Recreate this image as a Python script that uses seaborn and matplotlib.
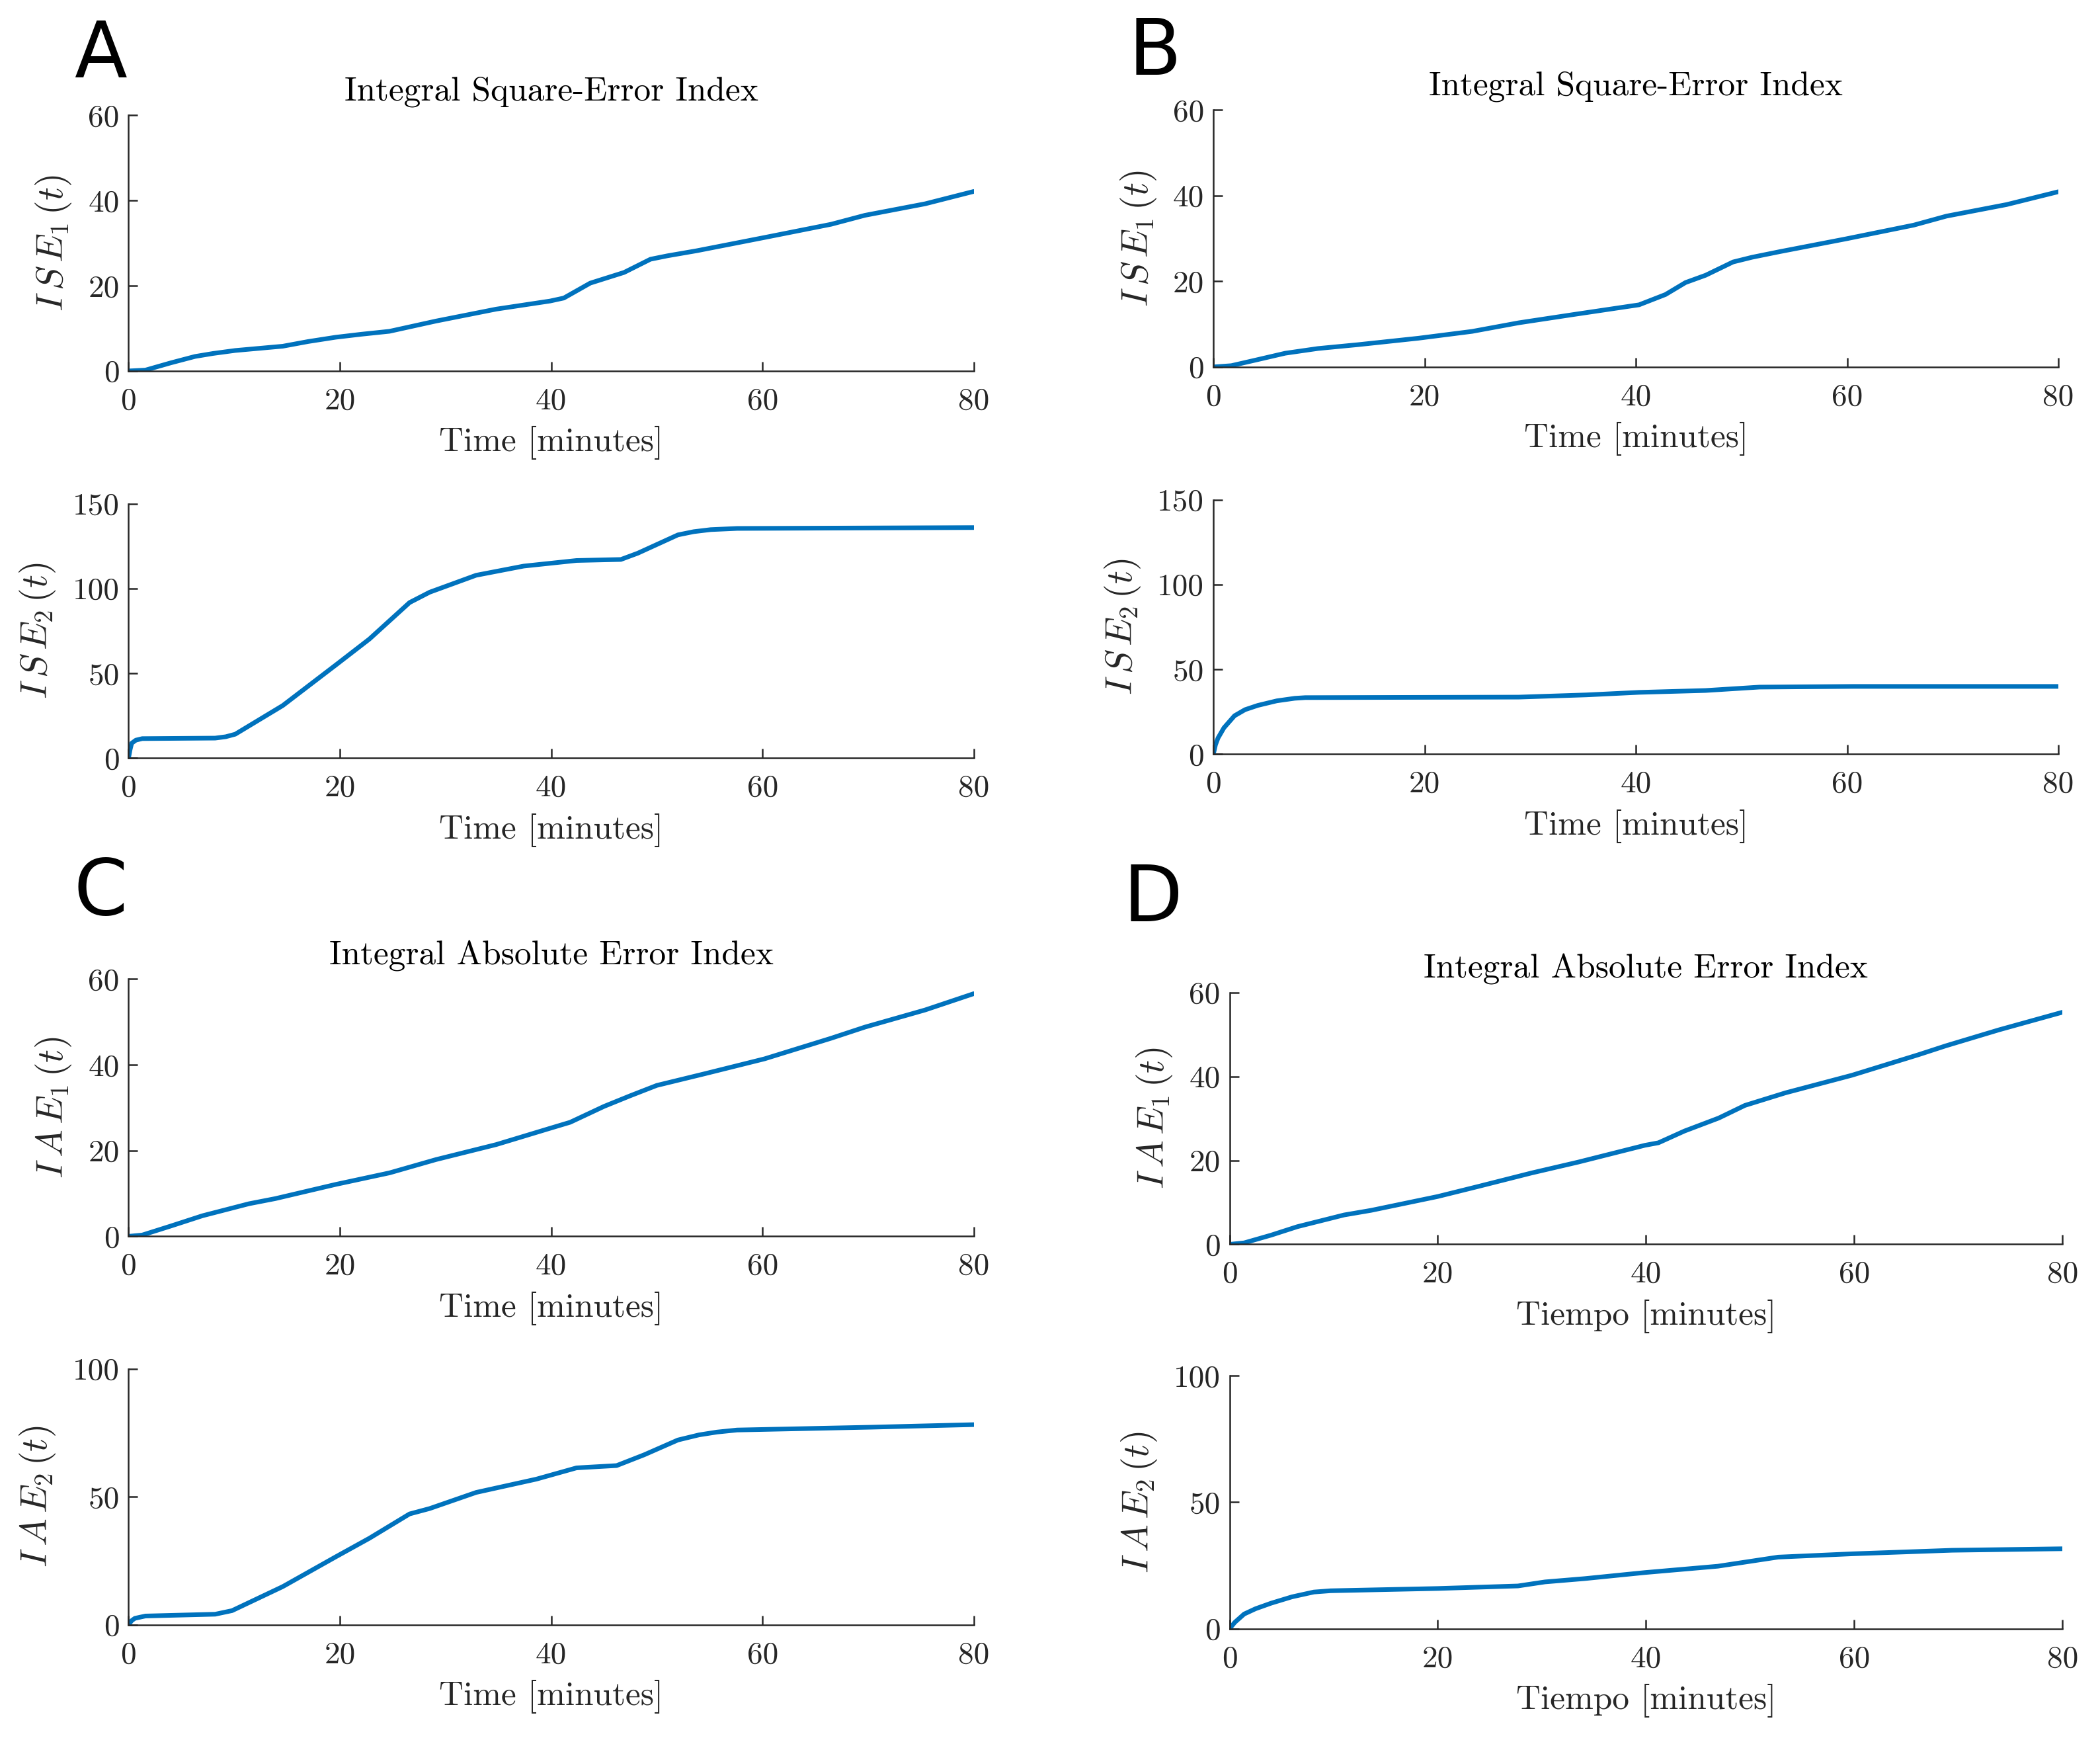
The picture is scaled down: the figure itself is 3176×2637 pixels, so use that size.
import numpy as np
import pandas as pd
import matplotlib
matplotlib.use("Agg")
import matplotlib.pyplot as plt
import seaborn as sns

# ---------------- data ----------------
t_ise1_a = [0, 1.6, 4.0, 6.3, 8.0, 10.1, 14.6, 17.0, 19.6, 22.0, 24.7, 29.1, 34.8, 39.9, 41.2, 43.7, 46.9, 49.4, 51.0, 53.8, 60.2, 66.5, 69.7, 75.4, 80]
v_ise1_a = [0, 0.2, 1.9, 3.4, 4.1, 4.8, 5.8, 6.9, 7.9, 8.6, 9.3, 11.7, 14.5, 16.4, 17.1, 20.6, 23.1, 26.2, 27.0, 28.2, 31.3, 34.4, 36.5, 39.2, 42.1]

t_ise2_a = [0, 0.15, 0.3, 0.7, 1.3, 8.2, 9.2, 10.1, 14.6, 19.6, 22.8, 26.6, 28.5, 32.9, 37.4, 42.4, 46.6, 48.2, 52.0, 53.5, 55.1, 57.6, 80]
v_ise2_a = [0, 5.0, 8.8, 10.6, 11.5, 11.8, 12.6, 14.1, 31.0, 54.8, 70.2, 91.7, 97.8, 107.8, 113.2, 116.5, 117.1, 120.8, 131.6, 133.5, 134.7, 135.4, 135.9]

t_ise1_b = [0, 1.7, 4.0, 6.8, 9.9, 13.7, 19.4, 24.5, 28.9, 34.0, 40.3, 42.8, 44.7, 46.6, 49.2, 51.0, 53.6, 59.9, 66.3, 69.4, 75.1, 80]
v_ise1_b = [0, 0.3, 1.6, 3.2, 4.3, 5.2, 6.7, 8.3, 10.3, 12.2, 14.5, 16.9, 19.7, 21.4, 24.5, 25.6, 26.9, 29.9, 33.1, 35.2, 37.9, 40.9]

t_ise2_b = [0, 0.2, 0.44, 1.0, 2.0, 3.0, 4.2, 6.0, 7.7, 8.7, 28.9, 35.3, 40.3, 46.6, 51.7, 60.6, 80]
v_ise2_b = [0, 5.5, 9.5, 15.5, 22.6, 26.2, 28.7, 31.4, 32.9, 33.3, 33.6, 34.9, 36.4, 37.5, 39.5, 39.9, 39.9]

t_iae1_c = [0, 1.3, 4.0, 7.0, 11.4, 13.9, 19.6, 24.7, 29.1, 34.8, 39.9, 41.8, 45.0, 47.5, 50.0, 54.5, 60.2, 66.5, 69.7, 75.4, 80]
v_iae1_c = [0, 0.3, 2.4, 4.8, 7.6, 8.8, 12.1, 14.8, 17.9, 21.4, 25.2, 26.6, 30.3, 32.8, 35.2, 37.9, 41.4, 46.2, 48.8, 52.8, 56.6]

t_iae2_c = [0, 0.3, 0.6, 1.6, 8.2, 9.8, 14.6, 19.6, 22.8, 26.6, 28.5, 32.9, 38.6, 42.4, 46.2, 48.8, 52.0, 54.0, 55.7, 57.6, 70.3, 80]
v_iae2_c = [0, 1.6, 2.5, 3.4, 4.1, 5.5, 14.9, 26.5, 33.8, 43.3, 45.4, 51.7, 56.9, 61.3, 62.2, 66.4, 72.2, 74.2, 75.3, 76.1, 77.2, 78.2]

t_iae1_d = [0, 1.4, 4.0, 6.5, 11.0, 13.6, 20.0, 23.9, 29.0, 33.5, 39.9, 41.2, 43.7, 47.0, 49.5, 53.4, 59.8, 66.2, 68.8, 73.9, 80]
v_iae1_d = [0, 0.35, 2.2, 4.2, 7.0, 8.1, 11.4, 13.8, 17.0, 19.6, 23.6, 24.2, 27.0, 30.1, 33.1, 36.1, 40.3, 45.2, 47.3, 51.1, 55.3]

t_iae2_d = [0, 0.5, 1.4, 2.5, 4.0, 6.0, 8.1, 9.7, 20.0, 27.7, 30.3, 34.1, 39.9, 46.9, 52.7, 59.8, 69.4, 80]
v_iae2_d = [0, 2.5, 5.8, 7.9, 10.1, 12.6, 14.5, 15.0, 15.9, 16.9, 18.5, 19.8, 22.2, 24.7, 28.3, 29.6, 31.0, 31.6]

x_ticks = [0, 20, 40, 60, 80]
y_ticks_60 = [0, 20, 40, 60]
y_ticks_150 = [0, 50, 100, 150]
y_ticks_100 = [0, 50, 100]

title_ise = "Integral Square-Error Index"
title_iae = "Integral Absolute Error Index"
xlabel_en = "Time [minutes]"
xlabel_es = "Tiempo [minutes]"

# ---------------- style ----------------
sns.set_theme(style="ticks")
plt.rcParams.update({
    "font.family": "serif",
    "font.serif": ["cmr10"],
    "mathtext.fontset": "cm",
    "axes.unicode_minus": False,
    "axes.formatter.use_mathtext": True,
})

BLUE = "#0072BD"
AX_COL = "#262626"

fig = plt.figure(figsize=(15.88, 13.185), dpi=200)

panels = [
    ((0.0612, 0.7873, 0.4025, 0.1467), t_ise1_a, v_ise1_a, y_ticks_60, 60, r"$I\,S\,E_1\,(t)$", title_ise, xlabel_en),
    ((0.0612, 0.5653, 0.4025, 0.1459), t_ise2_a, v_ise2_a, y_ticks_150, 150, r"$I\,S\,E_2\,(t)$", None, xlabel_en),
    ((0.5778, 0.7896, 0.4024, 0.1474), t_ise1_b, v_ise1_b, y_ticks_60, 60, r"$I\,S\,E_1\,(t)$", title_ise, xlabel_en),
    ((0.5778, 0.5676, 0.4024, 0.1459), t_ise2_b, v_ise2_b, y_ticks_150, 150, r"$I\,S\,E_2\,(t)$", None, xlabel_en),
    ((0.0612, 0.2911, 0.4025, 0.1475), t_iae1_c, v_iae1_c, y_ticks_60, 60, r"$I\,A\,E_1\,(t)$", title_iae, xlabel_en),
    ((0.0612, 0.0684, 0.4025, 0.1467), t_iae2_c, v_iae2_c, y_ticks_100, 100, r"$I\,A\,E_2\,(t)$", None, xlabel_en),
    ((0.5855, 0.2865, 0.3966, 0.1444), t_iae1_d, v_iae1_d, y_ticks_60, 60, r"$I\,A\,E_1\,(t)$", title_iae, xlabel_es),
    ((0.5855, 0.0661, 0.3966, 0.1451), t_iae2_d, v_iae2_d, y_ticks_100, 100, r"$I\,A\,E_2\,(t)$", None, xlabel_es),
]

for rect, t, v, yt, ymax, ylab, title, xlab in panels:
    ax = fig.add_axes(rect)
    df = pd.DataFrame({"t": t, "v": v})
    sns.lineplot(data=df, x="t", y="v", ax=ax, color=BLUE, linewidth=2.5)
    ax.set_xlim(0, 80)
    ax.set_ylim(0, ymax)
    ax.set_xticks(x_ticks)
    ax.set_xticklabels([str(x) for x in x_ticks])
    ax.set_yticks(yt)
    ax.set_yticklabels([str(y) for y in yt])
    for s in ["top", "right"]:
        ax.spines[s].set_visible(False)
    for s in ["left", "bottom"]:
        ax.spines[s].set_color(AX_COL)
        ax.spines[s].set_linewidth(0.9)
    ax.tick_params(axis="both", direction="in", length=5, width=0.9,
                   colors=AX_COL, labelsize=17)
    ax.tick_params(axis="x", pad=9)
    ax.tick_params(axis="y", pad=5)
    ax.set_xlabel(xlab, fontsize=18.5, color=AX_COL, labelpad=6)
    ax.set_ylabel(ylab, fontsize=20, color=AX_COL, labelpad=8)
    if title:
        ax.set_title(title, fontsize=18.5, color="black", pad=8)

for letter, x, y in [("A", 0.0478, 0.9555), ("B", 0.550, 0.957),
                     ("C", 0.0478, 0.4754), ("D", 0.549, 0.4716)]:
    fig.text(x, y, letter, fontsize=42, family="DejaVu Sans",
             ha="center", va="baseline", color="black")

fig.savefig("out.png", dpi=200)
